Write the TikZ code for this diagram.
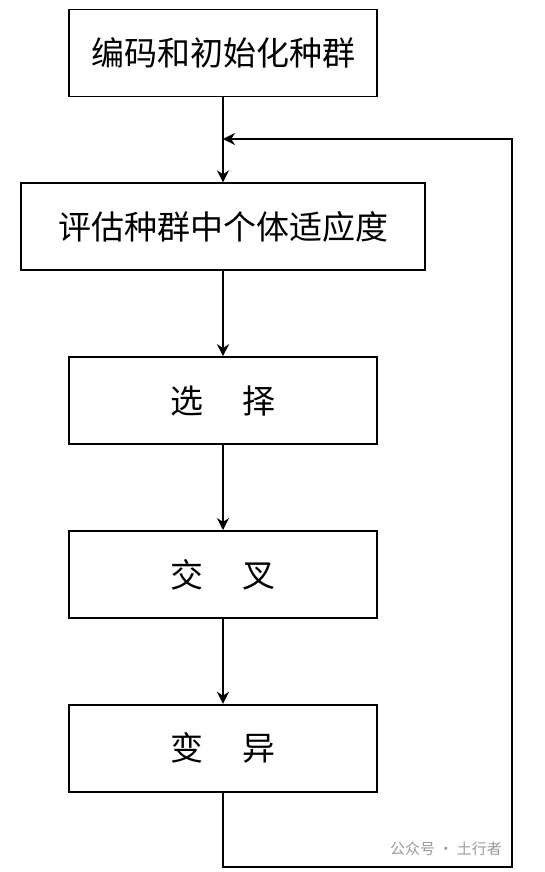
\documentclass[tikz,border=0pt]{standalone}
\usepackage{fontspec}
\newfontfamily\cjk{Noto Sans CJK SC}
\usetikzlibrary{positioning,arrows.meta}

\begin{document}
\begin{tikzpicture}[x=1pt,y=-1pt,line width=1.8pt,line cap=round]
	\tikzstyle{buzhou}=[draw,rectangle,minimum width=308pt,minimum height=87pt,inner sep=0pt,font=\cjk\fontsize{33}{40}\selectfont];
	\tikzstyle{jiantou}=[-{Stealth[length=12pt,width=12pt]}];
	\useasboundingbox (0,0) rectangle (544,872);
	%% steps
	\node[buzhou] (init) at (223,53) {编码和初始化种群};
	\node[buzhou,minimum width=404pt,below=85pt of init] (eval) {评估种群中个体适应度};
	\node[buzhou,below=85pt of eval] (sel) {选\hspace{1.2em}择};
	\node[buzhou,below=85pt of sel]  (cross) {交\hspace{1.2em}叉};
	\node[buzhou,below=85pt of cross] (mut) {变\hspace{1.2em}异};
	%% loop corners
	\coordinate (join) at (223,139);
	\coordinate (back) at (512,867);
	%% connections
	\draw[jiantou] (init) -- (eval);
	\draw[jiantou] (eval) -- (sel);
	\draw[jiantou] (sel) -- (cross);
	\draw[jiantou] (cross) -- (mut);
	\draw[jiantou] (mut.south) |- (back) |- (join);
	%% watermark
	\node[text=black!40,font=\cjk\fontsize{15}{17}\selectfont,anchor=east] (mark) at (506,849) {公众号 · 土行者};
\end{tikzpicture}
\end{document}
